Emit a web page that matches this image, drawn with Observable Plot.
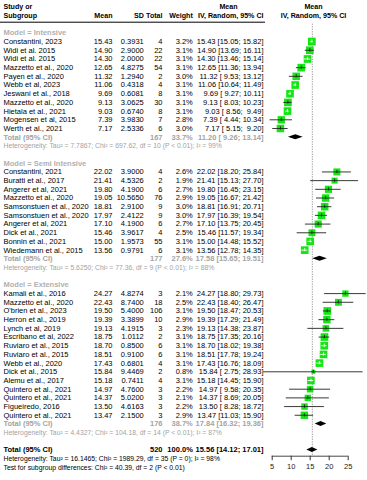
<!DOCTYPE html>
<html><head><meta charset="utf-8">
<script src="https://cdn.jsdelivr.net/npm/d3@7"></script>
<script src="https://cdn.jsdelivr.net/npm/@observablehq/plot@0.6"></script>
<style>
html,body{margin:0;padding:0;background:#fff;}
#chart svg{display:block;}
</style>
</head><body><div id="chart"></div>
<script>
// ---------------- DATA ----------------
const groupNames = ["Intensive", "Semi Intensive", "Extensive"];

const studyNames = [
  "Constantini, 2023","Widi et al. 2015","Widi et al. 2015","Mazzetto et al., 2020","Payen et al., 2020","Webb et al, 2023","Jeswani et al., 2018","Mazzetto et al., 2020","Hietala et al., 2021","Mogensen et al, 2015","Werth et al., 2021",
  "Constantini, 2021","Buratti et al., 2017","Angerer et al, 2021","Mazzetto et al., 2020","Samsonstuen et al., 2020","Samsonstuen et al., 2020","Angerer et al, 2021","Dick et al., 2021","Bonnin et al., 2021","Wiedemann et al., 2015",
  "Kamali et al., 2016","Mazzetto et al., 2020","O'brien et al., 2023","Herron et al., 2019","Lynch et al, 2019","Escribano et al, 2022","Ruviaro et al., 2015","Ruviaro et al., 2015","Webb et al., 2020","Dick et al., 2015","Alemu et al., 2017","Quintero et al., 2021","Quintero et al., 2021","Figueiredo, 2016","Quintero et al., 2021"
];
const studyGroup = [0,0,0,0,0,0,0,0,0,0,0, 1,1,1,1,1,1,1,1,1,1, 2,2,2,2,2,2,2,2,2,2,2,2,2,2,2];
const studyMean = [15.43,14.90,14.30,12.65,11.32,11.06,9.69,9.13,9.03,7.39,7.17,
  22.02,21.41,19.80,19.05,18.81,17.97,17.10,15.46,15.00,13.56,
  24.27,22.43,19.50,19.39,19.13,18.75,18.70,18.51,17.43,15.84,15.18,14.97,14.37,13.50,13.47];
const studySD = [0.3931,2.9000,2.0000,4.8275,1.2940,0.4318,0.6081,3.0625,0.6740,3.9830,2.5336,
  3.9000,4.5326,4.1900,10.5650,2.9100,2.4122,4.1900,3.9617,1.9573,0.9791,
  4.8274,8.7400,5.4000,3.3899,4.1915,1.0112,0.8500,0.9100,0.6801,9.4469,0.7411,4.7600,5.0200,4.6163,2.1500];
const studyN = [4,22,22,54,2,4,8,30,8,7,6, 4,2,6,76,9,9,6,4,55,6, 3,18,106,10,3,2,6,6,4,2,4,3,3,3,3];
const studyWeight = [3.2,3.1,3.1,3.1,3.0,3.1,3.1,3.1,3.1,2.8,3.0,
  2.6,1.9,2.7,2.9,3.0,3.0,2.7,2.5,3.1,3.1,
  2.1,2.5,3.1,2.9,2.3,3.1,3.1,3.1,3.1,0.8,3.1,2.2,2.1,2.2,2.9];
const studyLower = [15.05,13.69,13.46,11.36,9.53,10.64,9.27,8.03,8.56,4.44,5.15,
  18.20,15.13,16.45,16.67,16.91,16.39,13.75,11.57,14.48,12.78,
  18.80,18.40,18.47,17.29,14.38,17.35,18.02,17.78,16.76,2.75,14.45,9.58,8.69,8.28,11.03];
const studyUpper = [15.82,16.11,15.14,13.94,13.12,11.49,10.11,10.23,9.49,10.34,9.20,
  25.84,27.70,23.15,21.42,20.71,19.54,20.45,19.34,15.52,14.35,
  29.73,26.47,20.53,21.49,23.87,20.16,19.38,19.24,18.09,28.93,15.90,20.35,20.05,18.72,15.90];

const groupN = [167, 177, 176];
const groupWeight = [33.7, 27.6, 38.7];
const groupMean = [11.20, 17.58, 17.84];
const groupLower = [9.26, 15.65, 16.32];
const groupUpper = [13.14, 19.51, 19.36];
const groupHet = [
  "Heterogeneity: Tau\u00b2 = 7.7867; Chi\u00b2 = 697.62, df = 10 (P < 0.01); I\u00b2 = 99%",
  "Heterogeneity: Tau\u00b2 = 5.6250; Chi\u00b2 = 77.36, df = 9 (P < 0.01); I\u00b2 = 88%",
  "Heterogeneity: Tau\u00b2 = 4.4327; Chi\u00b2 = 104.18, df = 14 (P < 0.01); I\u00b2 = 87%"
];

const overallN = 520;
const overallWeight = 100.0;
const overallMean = 15.56;
const overallLower = 14.12;
const overallUpper = 17.01;
const overallHet = "Heterogeneity: Tau\u00b2 = 16.1465; Chi\u00b2 = 1989.29, df = 35 (P = 0); I\u00b2 = 98%";
const subgroupTest = "Test for subgroup differences: Chi\u00b2 = 40.39, df = 2 (P < 0.01)";

const xTicks = [5, 10, 15, 20, 25];

// ---------------- LAYOUT ----------------
const W = 367, H = 480;
const ROW0 = 32.4, ROWH = 8.69, NROWS = 50;
const X_RANGE = [271.7, 347.7];
const AXIS_Y = 455.7;
const HEADER_LINE_Y = 21.7;
const rowAt = px => (px - ROW0) / ROWH;
const pxPerUnit = (X_RANGE[1] - X_RANGE[0]) / (xTicks[xTicks.length - 1] - xTicks[0]);
const SIDE_MAX = 7.8, W_MAX = 3.2;
const sideOf = w => SIDE_MAX * Math.sqrt(w / W_MAX);

const COL = {name: 3, mean: 112, sd: 143.3, n: 162, weight: 192.3, ci: 263, ciHead: 228, plotHead: 313};
const FS = 7.5, FS_HEAD = 7.1, FS_SMALL = 6.8;
const GREY_LABEL = "#b0b0b0", GREY = "#a3a3a3", SQ = "#14e614", LINE = "#222";

const f1 = d3.format(".1f"), f2 = d3.format(".2f"), f4 = d3.format(".4f");
const ciText = (m, l, u) => `${f2(m)} [${l < 10 ? " " : ""}${f2(l)}; ${u < 10 ? " " : ""}${f2(u)}]`;

// ---------------- BUILD ROWS ----------------
const labelRows = [], studyRows = [], totalRows = [], hetRows = [], diamonds = [];
let r = 0;
groupNames.forEach((g, gi) => {
  labelRows.push({row: r, text: "Model = " + g});
  r++;
  studyNames.forEach((s, i) => {
    if (studyGroup[i] !== gi) return;
    const inside = (studyUpper[i] - studyLower[i]) * pxPerUnit <= sideOf(studyWeight[i]);
    studyRows.push({row: r, name: s, mean: studyMean[i], sd: studySD[i], n: studyN[i],
      weight: studyWeight[i], lower: studyLower[i], upper: studyUpper[i], inside});
    r++;
  });
  totalRows.push({row: r, n: groupN[gi], weight: groupWeight[gi], mean: groupMean[gi],
    lower: groupLower[gi], upper: groupUpper[gi], overall: false});
  r++;
  hetRows.push({row: r, text: groupHet[gi], overall: false});
  r++;
  r++; // blank
});
totalRows.push({row: r, n: overallN, weight: overallWeight, mean: overallMean,
  lower: overallLower, upper: overallUpper, overall: true});
r++;
hetRows.push({row: r, text: overallHet, overall: true}); r++;
hetRows.push({row: r, text: subgroupTest, overall: true});

const DH = 2.5 / ROWH;
totalRows.forEach((t, k) => {
  diamonds.push({id: k, x: t.lower, y1: t.row, y2: t.row});
  diamonds.push({id: k, x: t.mean, y1: t.row - DH, y2: t.row + DH});
  diamonds.push({id: k, x: t.upper, y1: t.row, y2: t.row});
});

const headerTop = [
  {row: -3, text: "Study or", dx: COL.name, anchor: "start"},
  {row: -3, text: "Mean", dx: COL.ciHead, anchor: "middle"},
  {row: -3, text: "Mean", dx: COL.plotHead, anchor: "middle"},
  {row: -2, text: "Subgroup", dx: COL.name, anchor: "start"},
  {row: -2, text: "Mean", dx: COL.mean, anchor: "end"},
  {row: -2, text: "SD", dx: COL.sd, anchor: "end"},
  {row: -2, text: "Total", dx: COL.n, anchor: "end"},
  {row: -2, text: "Weight", dx: COL.weight, anchor: "end"},
  {row: -2, text: "IV, Random, 95% CI", dx: COL.ci, anchor: "end"},
  {row: -2, text: "IV, Random, 95% CI", dx: COL.plotHead, anchor: "middle"}
];

const axisRow = rowAt(AXIS_Y);
const txt = (data, text, dx, anchor, extra = {}) =>
  Plot.text(data, {y: "row", text, frameAnchor: "left", dx, textAnchor: anchor, fontSize: FS, ...extra});

const marks = [
  // header
  ...headerTop.map(h => Plot.text([h], {y: "row", text: "text", frameAnchor: "left", dx: h.dx,
    textAnchor: h.anchor, fontSize: FS_HEAD, fontWeight: "bold", fill: "black"})),
  Plot.ruleY([rowAt(HEADER_LINE_Y)], {stroke: "black", strokeWidth: 1, insetRight: W - COL.ci - 2}),
  // reference (overall mean) dotted line
  Plot.ruleX([overallMean], {y1: rowAt(HEADER_LINE_Y + 2), y2: axisRow, stroke: "#888",
    strokeDasharray: "1.2,1.3", strokeWidth: 0.9}),
  // subgroup labels
  txt(labelRows, "text", COL.name, "start", {fill: GREY_LABEL, fontWeight: "bold"}),
  // study rows
  txt(studyRows, "name", COL.name, "start"),
  txt(studyRows, d => f2(d.mean), COL.mean, "end"),
  txt(studyRows, d => f4(d.sd), COL.sd, "end"),
  txt(studyRows, "n", COL.n, "end"),
  txt(studyRows, d => f1(d.weight) + "%", COL.weight, "end"),
  txt(studyRows, d => ciText(d.mean, d.lower, d.upper), COL.ci, "end"),
  // totals
  txt(totalRows, d => "Total (95% CI)", COL.name, "start", {fontWeight: "bold", fill: d => d.overall ? "black" : GREY}),
  txt(totalRows, "n", COL.n, "end", {fontWeight: "bold", fill: d => d.overall ? "black" : GREY}),
  txt(totalRows, d => f1(d.weight) + "%", COL.weight, "end", {fontWeight: "bold", fill: d => d.overall ? "black" : GREY}),
  txt(totalRows, d => ciText(d.mean, d.lower, d.upper), COL.ci, "end", {fontWeight: "bold", fill: d => d.overall ? "black" : GREY}),
  // heterogeneity
  txt(hetRows, "text", COL.name, "start", {fontSize: FS_SMALL, fill: d => d.overall ? "black" : GREY}),
  // squares
  Plot.dot(studyRows, {x: "mean", y: "row", r: "weight", symbol: "square", fill: SQ, stroke: "none"}),
  // CI lines
  Plot.ruleY(studyRows, {y: "row", x1: "lower", x2: "upper", stroke: d => d.inside ? "white" : LINE, strokeWidth: 0.9}),
  Plot.ruleX(studyRows, {x: "mean", y1: d => d.row - 1.6 / ROWH, y2: d => d.row + 1.6 / ROWH,
    stroke: d => d.inside ? "white" : LINE, strokeWidth: 0.9}),
  // diamonds
  Plot.areaY(diamonds, {x: "x", y1: "y1", y2: "y2", z: "id", fill: "black", curve: "linear"}),
  // axis
  Plot.ruleY([axisRow], {x1: xTicks[0], x2: xTicks[xTicks.length - 1], stroke: "#333", strokeWidth: 0.9}),
  Plot.axisX(xTicks, {anchor: "bottom", tickSize: 4.5, tickPadding: 3, fontSize: FS, stroke: "#333", fill: "#222"})
];

const chart = Plot.plot({
  width: W, height: H,
  marginTop: 0, marginRight: 0, marginLeft: 0, marginBottom: H - AXIS_Y,
  style: {fontFamily: "'Liberation Sans', Arial, sans-serif", background: "white", color: "black"},
  x: {domain: [xTicks[0], xTicks[xTicks.length - 1]], range: X_RANGE, axis: null},
  y: {domain: [0, NROWS], range: [ROW0, ROW0 + NROWS * ROWH], axis: null},
  r: {type: "sqrt", domain: [0, W_MAX], range: [0, SIDE_MAX / Math.sqrt(Math.PI)]},
  marks
});
document.getElementById("chart").append(chart);
</script>
</body></html>
